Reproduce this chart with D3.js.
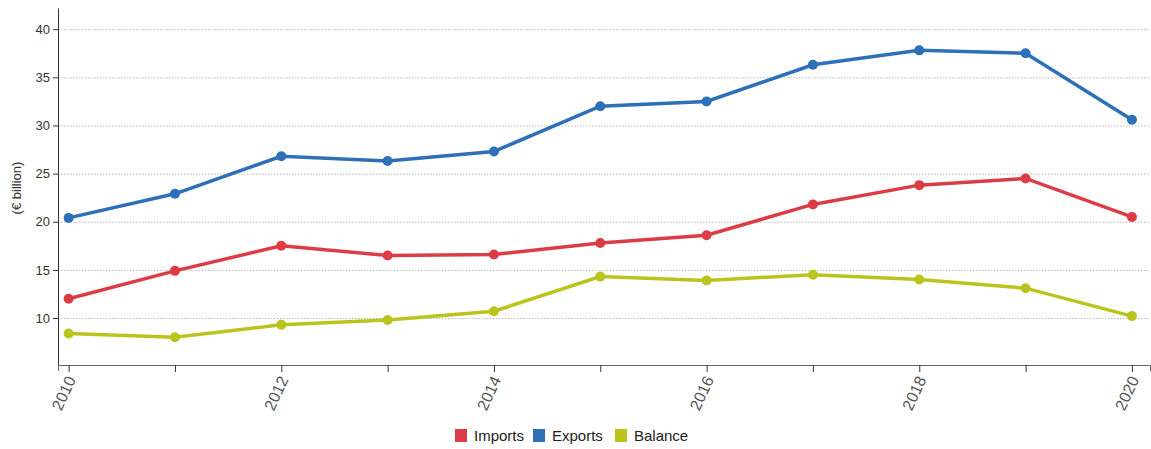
<!DOCTYPE html>
<html lang="en">
  <head>
    <meta charset="UTF-8" />
    <title>Trade</title>
    <style>
      body { margin: 0; background: #fff; }
      svg { font-family: "Liberation Sans", Arial, sans-serif; }
      .grid line { stroke: #bbb; stroke-dasharray: 1.5 1.5; }
      .grid path { display: none; }
    </style>
  </head>
  <body>
    <svg width="1151" height="449"></svg>
    <script src="https://cdnjs.cloudflare.com/ajax/libs/d3/7.8.5/d3.min.js"></script>
    <script>
      var years = [2010, 2011, 2012, 2013, 2014, 2015, 2016, 2017, 2018, 2019, 2020];
      var imports = [12.0, 14.9, 17.5, 16.5, 16.6, 17.8, 18.6, 21.8, 23.8, 24.5, 20.5];
      var exports = [20.4, 22.9, 26.8, 26.3, 27.3, 32.0, 32.5, 36.3, 37.8, 37.5, 30.6];
      var balance = [8.4, 8.0, 9.3, 9.8, 10.7, 14.3, 13.9, 14.5, 14.0, 13.1, 10.2];
      var yTicks = [10, 15, 20, 25, 30, 35, 40];
      var seriesNames = ["Imports", "Exports", "Balance"];
      var seriesColors = ["#dc3c45", "#2d70b8", "#bbc41c"];

      var svg = d3.select("svg");
      var mLeft = 58, mRight = 1150, mTop = 8, mBottom = 365;

      var x = d3.scaleLinear().domain([2009.9, 2020.17]).range([mLeft, mRight]);
      var y = d3.scaleLinear().domain([5.12, 42.2]).range([mBottom, mTop]);

      // grid
      svg.append("g")
        .attr("class", "grid")
        .attr("transform", "translate(" + mLeft + ",0)")
        .call(d3.axisRight(y).tickValues(yTicks).tickSize(mRight - mLeft).tickFormat(""));

      // y axis
      var ya = svg.append("g")
        .attr("transform", "translate(" + mLeft + ",0)")
        .call(d3.axisLeft(y).tickValues(yTicks).tickSize(5).tickSizeOuter(0));
      ya.select(".domain").attr("stroke", "#333");
      ya.selectAll(".tick line").attr("stroke", "#333");
      ya.selectAll("text").attr("font-size", 13).attr("fill", "#333")
        .attr("font-family", "Liberation Sans, Arial, sans-serif");

      svg.append("text")
        .attr("transform", "translate(21," + 188 + ") rotate(-90)")
        .attr("text-anchor", "middle")
        .attr("font-size", 13)
        .attr("fill", "#333")
        .text("(€ billion)");

      // x axis
      var xa = svg.append("g")
        .attr("transform", "translate(0," + mBottom + ")")
        .call(d3.axisBottom(x).tickValues(years).tickSize(7).tickSizeOuter(6)
          .tickFormat(function (d) { return d % 2 === 0 ? d : ""; }));
      xa.select(".domain").attr("stroke", "#666");
      xa.selectAll(".tick line").attr("stroke", "#333");
      xa.selectAll("text")
        .attr("font-size", 16)
        .attr("fill", "#555")
        .attr("font-family", "Liberation Sans, Arial, sans-serif")
        .attr("text-anchor", "end")
        .attr("x", 0)
        .attr("y", 0)
        .attr("dy", "0.35em")
        .attr("transform", "translate(2,12) rotate(-65)");

      var all = [imports, exports, balance];
      var line = d3.line()
        .x(function (d, i) { return x(years[i]); })
        .y(function (d) { return y(d); });

      all.forEach(function (vals, k) {
        svg.append("path")
          .datum(vals)
          .attr("fill", "none")
          .attr("stroke", seriesColors[k])
          .attr("stroke-width", 3.5)
          .attr("d", line);
        svg.append("g").selectAll("circle")
          .data(vals)
          .enter()
          .append("circle")
          .attr("cx", function (d, i) { return x(years[i]); })
          .attr("cy", function (d) { return y(d); })
          .attr("r", 5)
          .attr("fill", seriesColors[k]);
      });

      // legend
      var legend = svg.append("g").attr("transform", "translate(455,436)");
      var offs = [0, 78, 160];
      seriesNames.forEach(function (n, k) {
        var g = legend.append("g").attr("transform", "translate(" + offs[k] + ",0)");
        g.append("rect").attr("x", 0).attr("y", -7).attr("width", 12).attr("height", 13)
          .attr("fill", seriesColors[k]);
        g.append("text").attr("x", 19).attr("y", 0).attr("dy", "0.35em")
          .attr("font-size", 15).attr("fill", "#222").text(n);
      });
    </script>
  </body>
</html>
